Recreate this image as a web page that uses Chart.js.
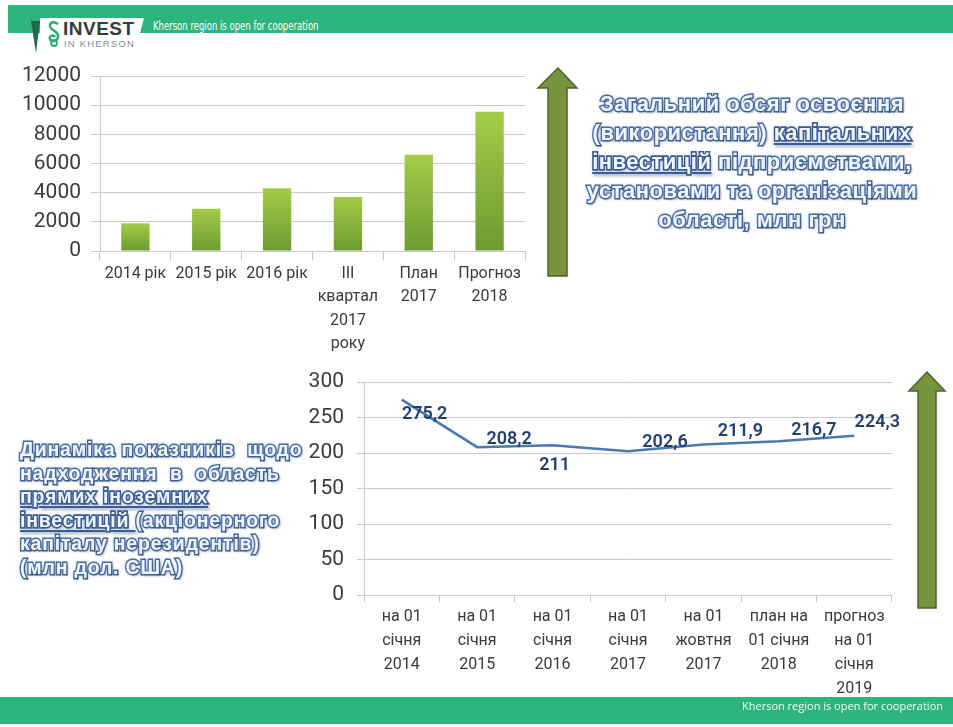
<!DOCTYPE html>
<html>
<head>
<meta charset="utf-8">
<script src="https://cdn.jsdelivr.net/npm/chart.js@4/dist/chart.umd.min.js"></script>
<style>
  html, body { margin: 0; padding: 0; background: #fff; }
  body { width: 953px; height: 727px; position: relative; overflow: hidden; font-family: Roboto, "Open Sans", sans-serif; }
  .abs { position: absolute; }
  #hdr { left: 8px; top: 5px; width: 945px; height: 28px; background: #2fb47c; }
  #hdrCut { left: 40px; top: 18px; width: 104px; height: 16px; background: #fff; clip-path: polygon(0 0, 100% 0, 96% 100%, 0 100%); }
  #flag { left: 31px; top: 21px; width: 9px; height: 32px; background: #1d6b48; clip-path: polygon(0 0, 100% 0, 55% 100%); }
  #invest { left: 63px; top: 18px; font: bold 19px "Liberation Sans", Arial, sans-serif; color: #3a3a3a; letter-spacing: 0.5px; }
  #inkh { left: 64px; top: 38px; font: 9.5px "Liberation Sans", Arial, sans-serif; color: #8a8a8a; letter-spacing: 1.2px; }
  #hdrTxt { left: 153px; top: 18px; font: 12.5px "DejaVu Sans", sans-serif; color: #fff; transform: scaleX(0.68); transform-origin: left top; white-space: nowrap; }
  #ftr { left: 0; top: 697px; width: 953px; height: 27px; background: #2fb47c; }
  #ftrTxt { right: 10px; top: 698px; font: 11px "Open Sans", sans-serif; color: #f2fff8; white-space: nowrap; }
  .wa { font-family: "Liberation Sans", Arial, sans-serif; font-weight: bold; color: #f1f6fd;
        -webkit-text-stroke: 2.8px #3a5b97; paint-order: stroke fill;
        text-shadow: 0 0 4px rgba(120,160,215,0.9), 2px 2px 2px rgba(0,0,0,0.25); white-space: nowrap; }
  .wa u { text-decoration-color: #3a5b97; text-decoration-thickness: 2px; text-underline-offset: 3px; }
  #t1 { left: 552px; top: 89px; width: 400px; text-align: center; font-size: 22px; letter-spacing: 0.5px; line-height: 29px; }
  #t2 { left: 20px; top: 438px; font-size: 19.5px; letter-spacing: 0.8px; line-height: 23.5px; }
  #c1box { left: 0; top: 60px; width: 545px; height: 300px; }
  #c2box { left: 300px; top: 360px; width: 653px; height: 337px; }
  svg.arrow { position: absolute; left: 0; top: 0; width: 953px; height: 727px; pointer-events: none; }
</style>
</head>
<body>
<div id="hdr" class="abs"></div>
<div id="hdrCut" class="abs"></div>
<div id="flag" class="abs"></div>
<svg class="abs" style="left:46px;top:20px" width="16" height="28" viewBox="0 0 16 28">
  <path d="M12 4 C6 0 2 4 5 8 C8 12 13 12 12 17 C11 22 5 22 4 19 C3 16 7 14 9 17" fill="none" stroke="#2fa879" stroke-width="2.4"/>
  <circle cx="8" cy="23" r="3" fill="none" stroke="#2fa879" stroke-width="1.8"/>
</svg>
<div id="invest" class="abs">INVEST</div>
<div id="inkh" class="abs">IN KHERSON</div>
<div id="hdrTxt" class="abs">Kherson region is open for cooperation</div>

<div id="c1box" class="abs"><canvas id="c1"></canvas></div>
<div id="c2box" class="abs"><canvas id="c2"></canvas></div>

<svg class="arrow">
  <polygon points="558,68 577,88 567,88 567,276 548,276 548,88 538,88" fill="#77933c" stroke="#4f6228" stroke-width="1.5"/>
  <polygon points="927,372 945,391 936,391 936,608 918,608 918,391 909,391" fill="#77933c" stroke="#4f6228" stroke-width="1.5"/>
</svg>

<div id="t1" class="abs wa">Загальний обсяг освоєння<br>(використання) <u>капітальних</u><br><u>інвестицій</u> підприємствами,<br>установами та організаціями<br>області, млн грн</div>
<div id="t2" class="abs wa">Динаміка показників&nbsp; щодо<br>надходження&nbsp; в&nbsp; область<br><u>прямих іноземних</u><br><u>інвестицій </u>(акціонерного<br>капіталу нерезидентів)<br>(млн дол. США)</div>

<div id="ftr" class="abs"></div>
<div id="ftrTxt" class="abs">Kherson region is open for cooperation</div>

<script>
// top chart: capital investment, mln UAH
const barLabels = ['2014 рік', '2015 рік', '2016 рік', ['III', 'квартал', '2017', 'року'], ['План', '2017'], ['Прогноз', '2018']];
const barValues = [1900, 2900, 4300, 3700, 6600, 9550];
const barAxisMax = 12000;
const barAxisStep = 2000;

// bottom chart: foreign direct investment, mln USD
const lineLabels = [
  ['на 01', 'січня', '2014'],
  ['на 01', 'січня', '2015'],
  ['на 01', 'січня', '2016'],
  ['на 01', 'січня', '2017'],
  ['на 01', 'жовтня', '2017'],
  ['план на', '01 січня', '2018'],
  ['прогноз', 'на 01', 'січня', '2019']
];
const lineValues = [275.2, 208.2, 211, 202.6, 211.9, 216.7, 224.3];
const lineAxisMax = 300;
const lineAxisStep = 50;

const tickColor = '#3a3a3a';
const gridColor = '#c9c9c9';

function barFill(context) {
  const chart = context.chart;
  const y = chart.scales.y;
  if (!chart.chartArea || !y || context.parsed == null) return '#8db843';
  const top = y.getPixelForValue(context.parsed.y);
  const base = y.getPixelForValue(0);
  const g = chart.ctx.createLinearGradient(0, top, 0, base);
  g.addColorStop(0, '#a3cc47');
  g.addColorStop(1, '#6e9a31');
  return g;
}

// fixed axis boxes so the plot areas sit where the slide has them
function fixY(width) {
  return scale => { scale.width = width; scale.paddingTop = 0; scale.paddingBottom = 0; };
}

new Chart(document.getElementById('c1'), {
  type: 'bar',
  data: {
    labels: barLabels,
    datasets: [{
      data: barValues,
      backgroundColor: barFill,
      borderWidth: 0,
      barPercentage: 0.4,
      categoryPercentage: 1
    }]
  },
  options: {
    responsive: true,
    maintainAspectRatio: false,
    animation: false,
    layout: { padding: { left: 0, right: 20, top: 16, bottom: 0 } },
    plugins: { legend: { display: false }, tooltip: { enabled: false } },
    scales: {
      x: {
        grid: { display: true, drawOnChartArea: false, drawTicks: true, tickLength: 9, color: gridColor, offset: true },
        border: { color: gridColor },
        ticks: { color: tickColor, font: { family: 'Roboto', size: 16, lineHeight: 1.47 }, padding: 2, maxRotation: 0, autoSkip: false },
        afterFit(scale) { scale.height = 109; }
      },
      y: {
        min: 0,
        max: barAxisMax,
        grid: { color: gridColor, tickLength: 9 },
        border: { color: gridColor },
        ticks: { stepSize: barAxisStep, autoSkip: false, color: tickColor, font: { family: 'Roboto', size: 21 }, padding: 10, callback: v => String(v) },
        afterFit: fixY(100)
      }
    }
  }
});

const valueLabels = {
  id: 'valueLabels',
  afterDatasetsDraw(chart, args, opts) {
    const ctx = chart.ctx;
    const meta = chart.getDatasetMeta(0);
    const values = chart.data.datasets[0].data;
    ctx.save();
    ctx.font = opts.font;
    ctx.fillStyle = opts.color;
    ctx.textAlign = 'center';
    ctx.textBaseline = 'middle';
    meta.data.forEach((pt, i) => {
      const off = opts.offsets[i] || [0, 0];
      ctx.fillText(String(values[i]).replace('.', ','), pt.x + off[0], pt.y + off[1]);
    });
    ctx.restore();
  }
};

new Chart(document.getElementById('c2'), {
  type: 'line',
  data: {
    labels: lineLabels,
    datasets: [{
      data: lineValues,
      borderColor: '#4a78b2',
      borderWidth: 2.5,
      pointRadius: 0,
      tension: 0,
      fill: false
    }]
  },
  plugins: [valueLabels],
  options: {
    responsive: true,
    maintainAspectRatio: false,
    animation: false,
    layout: { padding: { left: 0, right: 61, top: 22, bottom: 0 } },
    plugins: {
      legend: { display: false },
      tooltip: { enabled: false },
      valueLabels: {
        font: '600 18px Roboto',
        color: '#233f6e',
        offsets: [[23, 15], [32, -8], [2, 20], [37, -9], [37, -13], [35, -11], [23, -13]]
      }
    },
    scales: {
      x: {
        offset: true,
        grid: { display: true, drawOnChartArea: false, drawTicks: true, tickLength: 7, color: gridColor, offset: true },
        border: { color: gridColor },
        ticks: { color: tickColor, font: { family: 'Roboto', size: 16, lineHeight: 1.5 }, padding: 3, maxRotation: 0, autoSkip: false },
        afterFit(scale) { scale.height = 102; }
      },
      y: {
        min: 0,
        max: lineAxisMax,
        grid: { color: gridColor, tickLength: 7 },
        border: { color: gridColor },
        ticks: { stepSize: lineAxisStep, autoSkip: false, color: tickColor, font: { family: 'Roboto', size: 21 }, padding: 13 },
        afterFit: fixY(64)
      }
    }
  }
});
</script>
</body>
</html>
